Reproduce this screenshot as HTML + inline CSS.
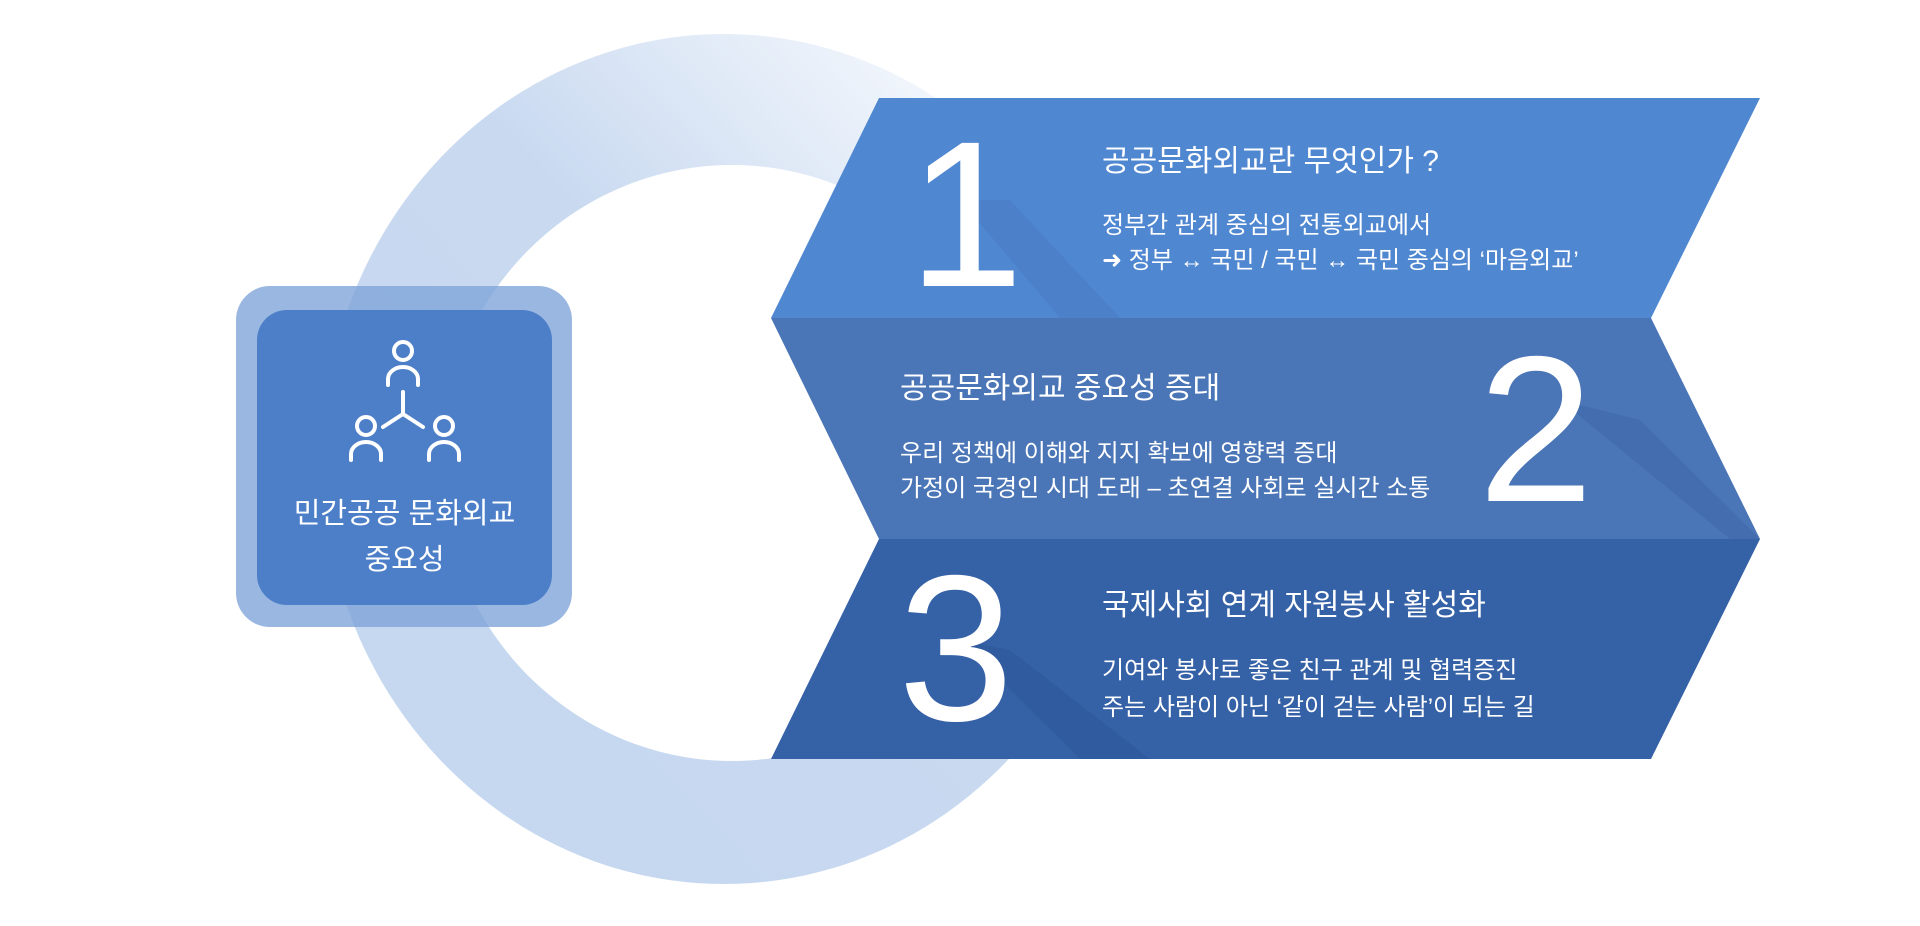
<!DOCTYPE html>
<html><head><meta charset="utf-8"><style>
html,body{margin:0;padding:0;background:#fff;}
body{width:1920px;height:926px;position:relative;overflow:hidden;font-family:"Liberation Sans","Noto Sans CJK KR","NanumGothic",sans-serif;color:#fff;}
.t{position:absolute;white-space:nowrap;color:#fff;}
.title{font-size:30px;line-height:34px;}
.ln{font-size:24px;line-height:28px;}
.num{position:absolute;font-family:"Liberation Sans",sans-serif;color:#fff;line-height:1;}
</style></head><body>
<svg width="1920" height="926" style="position:absolute;left:0;top:0">
<defs>
<linearGradient id="rg" x1="0" y1="1" x2="1" y2="0">
<stop offset="0" stop-color="#c5d7ef"/>
<stop offset="0.55" stop-color="#c8d9f0"/>
<stop offset="0.85" stop-color="#f2f6fc"/>
<stop offset="1" stop-color="#ffffff"/>
</linearGradient>
</defs>
<path fill-rule="evenodd" fill="url(#rg)" d="M724,34 a402,425 0 1,0 0.1,0 Z M732,165 a291,298 0 1,1 -0.1,0 Z"/>
<polygon points="879,98 1760,98 1651,318 771,318" fill="#5087d1"/>
<polygon points="771,318 1651,318 1760,539 879,539" fill="#4a75b6"/>
<polygon points="879,539 1760,539 1651,759 771,759" fill="#3561a6"/>
<polygon points="960,200 1010,200 1120,318 1060,318" fill="#4a7ec6" opacity="0.7"/>
<polygon points="1560,400 1640,420 1760,539 1730,539" fill="#4069ab" opacity="0.7"/>
<polygon points="960,640 1010,650 1150,759 1080,759" fill="#2f5a9d" opacity="0.7"/>
<rect x="236" y="286" width="336" height="341" rx="34" fill="#7fa5da" opacity="0.8"/>
<rect x="257" y="310" width="295" height="295" rx="30" fill="#4d7fc9"/>
<g fill="none" stroke="#fff" stroke-width="4" stroke-linecap="round">
<circle cx="403" cy="351" r="9"/>
<path d="M388,385 v-6 a15,12 0 0 1 30,0 v6"/>
<path d="M403,392 v22 M403,414 l-20,13 M403,414 l20,13"/>
<circle cx="366" cy="426" r="9"/>
<path d="M351,460 v-6 a15,12 0 0 1 30,0 v6"/>
<circle cx="444" cy="426" r="9"/>
<path d="M429,460 v-6 a15,12 0 0 1 30,0 v6"/>
</g>
</svg>
<div class="t" style="left:237px;width:335px;text-align:center;top:491px;font-size:29px;line-height:46px;">민간공공 문화외교<br>중요성</div>

<div class="num" style="left:908px;top:111px;font-size:208px;">1</div>
<div class="num" style="left:1478px;top:326px;font-size:208px;">2</div>
<div class="num" style="left:898px;top:545px;font-size:208px;">3</div>

<div class="t title" style="left:1102px;top:145px;">공공문화외교란 무엇인가 ?</div>
<div class="t ln" style="left:1102px;top:212px;">정부간 관계 중심의 전통외교에서</div>
<div class="t ln" style="left:1102px;top:247px;">➜ 정부 ↔ 국민 / 국민 ↔ 국민 중심의 ‘마음외교’</div>

<div class="t title" style="left:900px;top:372px;">공공문화외교 중요성 증대</div>
<div class="t ln" style="left:900px;top:440px;">우리 정책에 이해와 지지 확보에 영향력 증대</div>
<div class="t ln" style="left:900px;top:475px;">가정이 국경인 시대 도래 – 초연결 사회로 실시간 소통</div>

<div class="t title" style="left:1102px;top:589px;">국제사회 연계 자원봉사 활성화</div>
<div class="t ln" style="left:1102px;top:657px;">기여와 봉사로 좋은 친구 관계 및 협력증진</div>
<div class="t ln" style="left:1102px;top:694px;">주는 사람이 아닌 ‘같이 걷는 사람’이 되는 길</div>
</body></html>
